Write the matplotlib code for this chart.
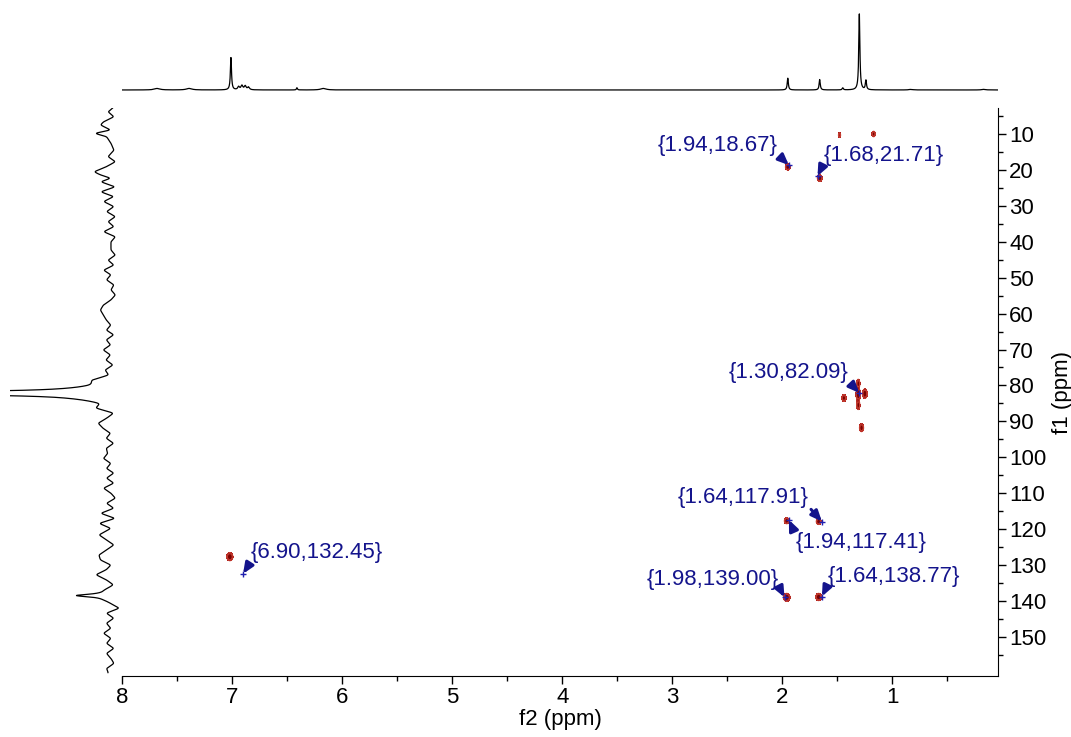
import numpy as np
import matplotlib
matplotlib.use("Agg")
import matplotlib.pyplot as plt
from matplotlib.ticker import MultipleLocator, FixedLocator

plt.rcParams['font.family'] = ['Liberation Sans', 'DejaVu Sans']

# 1H projection (top): peak ppm, height (tallest = 100), half width (ppm)
h1_ppm = [7.68, 7.39, 7.01, 6.94, 6.91, 6.88, 6.85, 6.41, 6.17, 1.95, 1.66, 1.45, 1.30, 1.24, 0.83, 0.17]
h1_height = [2, 2, 42.5, 4, 5.5, 5, 3.5, 3, 2, 15.5, 13.7, 2.7, 100, 12.4, 0.8, 0.8]
h1_width = [0.03, 0.03, 0.006, 0.01, 0.01, 0.01, 0.01, 0.005, 0.03, 0.006, 0.006, 0.006, 0.006, 0.006, 0.02, 0.02]

# 13C projection (left): baseline wiggle (ppm, offset)
c13_noise_ppm = [2.6, 3.8, 5.2, 6.6, 7.5, 8.9, 9.8, 10.7, 12.6, 14.5, 16.3, 17.7, 19.1, 20.5, 21.4,
                 22.3, 23.3, 24.7, 26.1, 27.4, 28.8, 30.2, 31.6, 33.0, 34.4, 35.8, 37.2, 38.6, 40.0,
                 42.3, 43.7, 45.1, 46.5, 47.9, 49.2, 50.6, 52.0, 53.4, 54.8, 56.2, 57.6, 59.0, 60.4,
                 61.8, 63.2, 64.6, 65.9, 67.3, 68.7, 70.1, 71.5, 72.9, 74.3, 75.7, 77.1, 78.5, 79.9,
                 80.8, 83.6, 85.0, 86.3, 87.7, 89.1, 90.5, 91.9, 93.3, 94.7, 96.1, 97.5, 98.9, 100.3,
                 101.7, 103.1, 104.4, 105.8, 107.2, 108.6, 110.0, 111.4, 112.8, 114.2, 115.6, 117.0,
                 118.4, 119.8, 121.6, 123.0, 124.4, 125.8, 127.2, 128.6, 130.0, 131.3, 132.7, 134.1,
                 135.5, 136.9, 139.7, 141.1, 142.0, 143.4, 144.8, 146.2, 147.6, 149.0, 150.4, 151.8,
                 153.2, 154.6, 156.0, 157.4, 158.8, 159.7]
c13_noise_off = [-5.5, 0, -6, 4.5, 7.5, -3, 14, 1.5, -3, -6, 0, -7.5, 1.5, 14, 7.5,
                 -3, 7.5, -7.5, 7.5, -6, 4.5, -6, 1.5, -7.5, 0, -6, 4.5, -7.5, -3,
                 -3, -7.5, 0, -6, 4.5, -3, 1.5, -6, -3, -7.5, -3, 4.5, 7.5, 4.5,
                 1.5, -3, 1.5, -6, 1.5, -3, 4.5, -3, 1.5, -6, 1.5, -3, 12, 7.5,
                 13, 14, 1.5, 9, -7.5, 0, 9, 4.5, -3, 1.5, -6, 1.5, 0, 4.5,
                 -3, 1.5, -6, 1.5, -6, 4.5, -3, -7.5, 1.5, -6, 7.5, -7.5,
                 9, -3, 9, 1.5, -6, 1.5, 9, 7.5, -3, 1.5, 12, 1.5,
                 -6, 1.5, 1.5, -6, -12, 1.5, -6, 1.5, -3, 4.5, -3, 1.5,
                 -6, 1.5, -3, -6, 1.5, 0]
c13_peak_ppm = [82.15, 138.5]
c13_peak_height = [300, 30]
c13_peak_width = [0.45, 0.45]

# cross peaks: f2 ppm, f1 ppm, intensity, sigma f2, sigma f1
cp_f2 = [1.48, 1.17, 1.95, 1.66, 1.31, 1.31, 1.31, 1.25, 1.44, 1.28, 1.96, 1.67, 1.96, 1.67, 7.02]
cp_f1 = [10.3, 10.0, 19.2, 22.3, 79.5, 82.5, 85.5, 82.3, 83.5, 91.8, 117.7, 117.9, 139.0, 138.9, 127.7]
cp_amp = [0.6, 0.8, 1, 1, 0.8, 1, 0.8, 1, 0.8, 0.9, 1, 1, 1, 1, 1]
cp_sx = [0.007, 0.009, 0.012, 0.012, 0.009, 0.011, 0.009, 0.012, 0.011, 0.011, 0.012, 0.012, 0.016, 0.014, 0.015]
cp_sy = [0.4, 0.45, 0.45, 0.5, 0.7, 0.9, 0.7, 0.7, 0.55, 0.6, 0.45, 0.45, 0.6, 0.55, 0.6]

# annotated picks
pick_text = ['{1.94,18.67}', '{1.68,21.71}', '{1.30,82.09}', '{1.64,117.91}',
             '{1.94,117.41}', '{1.98,139.00}', '{1.64,138.77}', '{6.90,132.45}']
pick_f2 = [1.94, 1.68, 1.30, 1.64, 1.94, 1.98, 1.64, 6.90]
pick_f1 = [18.67, 21.71, 82.09, 117.91, 117.41, 139.00, 138.77, 132.45]

W, H = 1071, 737
XLIM = (8.0, 0.04)
YLIM = (160.9, 2.76)
navy = '#14148c'


def px_box(x0, y0, x1, y1):
    return [x0 / W, 1 - y1 / H, (x1 - x0) / W, (y1 - y0) / H]


fig = plt.figure(figsize=(W / 100, H / 100), dpi=100)
ax = fig.add_axes(px_box(122, 108, 998, 676))
ax_top = fig.add_axes(px_box(122, 8, 998, 94))
ax_left = fig.add_axes(px_box(10, 108, 122, 676))

# top projection
hx = np.arange(0.04, 8.0, 0.0005)
hy = np.zeros_like(hx)
for p, h, w in zip(h1_ppm, h1_height, h1_width):
    hy += h * w**2 / ((hx - p)**2 + w**2)
ax_top.plot(hx, hy, color='black', lw=0.9)
ax_top.set_xlim(*XLIM)
ax_top.set_ylim(-5.3, 107.9)
ax_top.axis('off')

# left projection
cy = np.arange(2.5, 160.0, 0.05)
off = np.interp(cy, c13_noise_ppm, c13_noise_off)
k = np.exp(-0.5 * (np.arange(-12, 13) / 4.0)**2)
off = np.convolve(np.pad(off, 12, mode='edge'), k / k.sum(), mode='valid')
for p, h, w in zip(c13_peak_ppm, c13_peak_height, c13_peak_width):
    off += h * w**2 / ((cy - p)**2 + w**2)
ax_left.plot(off, cy, color='black', lw=0.9)
ax_left.set_xlim(98, -14)
ax_left.set_ylim(*YLIM)
ax_left.axis('off')

# 2D contours
gx = np.arange(0.5, 7.6, 0.003)
gy = np.arange(3.0, 160.0, 0.1)
Z = np.zeros((gy.size, gx.size))
for x0, y0, a, sx, sy in zip(cp_f2, cp_f1, cp_amp, cp_sx, cp_sy):
    Z += a * np.outer(np.exp(-0.5 * ((gy - y0) / sy)**2), np.exp(-0.5 * ((gx - x0) / sx)**2))
ax.contourf(gx, gy, Z, levels=[0.15, 0.55, 50], colors=['#a31515', '#7a0000'])
ax.contour(gx, gy, Z, levels=[0.15, 0.4], colors='#d04a3a', linewidths=0.5)

ax.plot(pick_f2, pick_f1, '+', color='#2020b0', ms=5, mew=1)

# label placement: (f2, f1, ha, va, arrow anchor on text box)
label_layout = [
    (2.045, 13.3, 'right', 'center', (1, 0.1)),
    (1.627, 16.1, 'left', 'center', (0, 0.1)),
    (1.40, 76.5, 'right', 'center', (1, 0.1)),
    (1.764, 111.3, 'right', 'center', (1, 0.1)),
    (1.882, 123.8, 'left', 'center', (0, 0.9)),
    (2.027, 133.9, 'right', 'center', (1, 0.1)),
    (1.59, 133.3, 'left', 'center', (0, 0.1)),
    (6.827, 126.6, 'left', 'center', (0, 0.1)),
]
for txt, x0, y0, (tx, ty, ha, va, rp) in zip(pick_text, pick_f2, pick_f1, label_layout):
    ax.annotate(txt, xy=(x0, y0), xytext=(tx, ty), ha=ha, va=va,
                fontsize=16, color=navy,
                arrowprops=dict(arrowstyle='-|>,head_length=0.7,head_width=0.3',
                                color=navy, lw=2.2, mutation_scale=9,
                                shrinkA=0, shrinkB=0, relpos=rp))

ax.set_xlim(*XLIM)
ax.set_ylim(*YLIM)
ax.spines['top'].set_visible(False)
ax.spines['left'].set_visible(False)
ax.xaxis.set_major_locator(MultipleLocator(1))
ax.xaxis.set_minor_locator(MultipleLocator(0.5))
ax.yaxis.tick_right()
ax.yaxis.set_label_position('right')
ax.yaxis.set_major_locator(FixedLocator(list(range(10, 151, 10))))
ax.yaxis.set_minor_locator(FixedLocator(list(range(5, 160, 10))))
ax.tick_params(which='major', direction='out', length=6, width=1, labelsize=16, pad=2)
ax.tick_params(which='minor', direction='out', length=3.5, width=1)
ax.set_xlabel('f2 (ppm)', fontsize=16, labelpad=1)
ax.set_ylabel('f1 (ppm)', fontsize=16, labelpad=4)

fig.savefig('out.png', dpi=100)
